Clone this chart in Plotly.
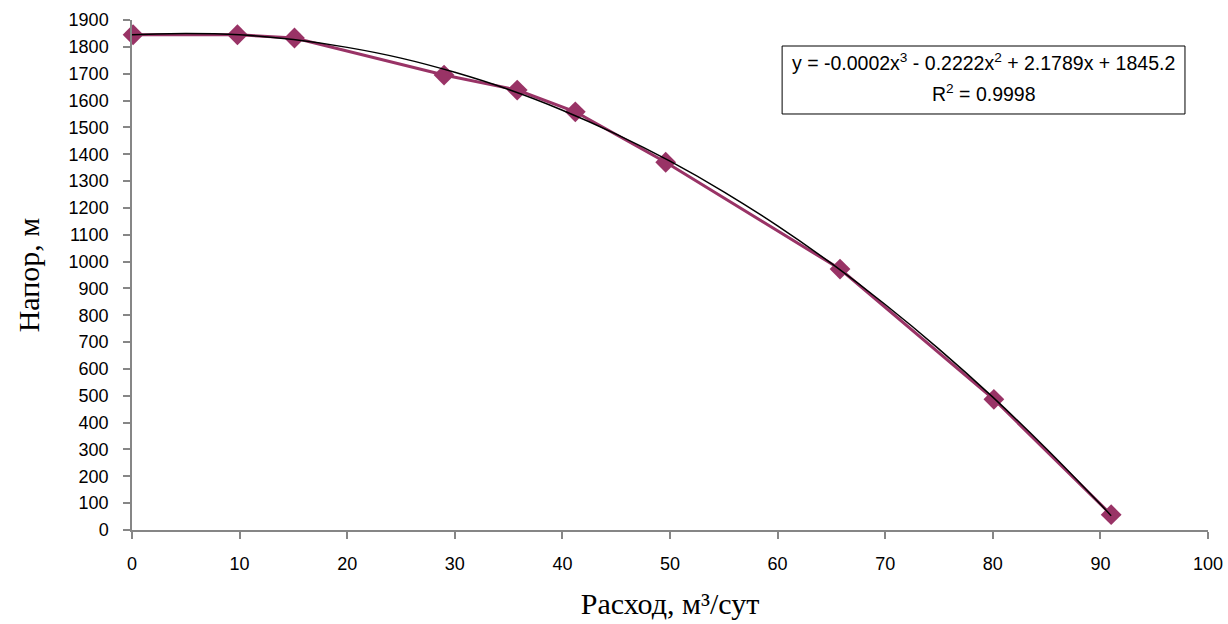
import plotly.graph_objects as go

# measured points
flow = [0.1, 9.8, 15.1, 29.0, 35.8, 41.2, 49.6, 65.8, 80.1, 91.0]
head = [1845, 1845, 1833, 1695, 1639, 1558, 1370, 972, 487, 57]

# trendline
trend_x = [0, 5, 10, 15, 20, 25, 30, 35, 40, 45, 50, 55, 60, 65, 70, 75, 80, 85, 90, 91]
trend_y = [1845, 1850, 1845, 1827, 1798, 1758, 1705, 1641, 1564, 1475, 1374, 1260, 1133, 993, 840, 674, 495, 302, 96, 53]

x_ticks = list(range(0, 101, 10))
y_ticks = list(range(0, 1901, 100))

eq_line1 = "y = -0.0002x<sup>3</sup> - 0.2222x<sup>2</sup> + 2.1789x + 1845.2"
eq_line2 = "R<sup>2</sup> = 0.9998"

TICK_FONT = dict(family="Liberation Sans, Arial, sans-serif", size=18, color="black")
EQ_FONT = dict(family="Liberation Sans, Arial, sans-serif", size=19.5, color="black")
TITLE_FONT = dict(family="Liberation Serif, Times New Roman, serif", size=30, color="black")

fig = go.Figure()
fig.add_trace(go.Scatter(
    x=flow, y=head, mode="lines+markers",
    line=dict(color="#993366", width=3),
    marker=dict(symbol="diamond", size=16, color="#993366"),
    showlegend=False, cliponaxis=False,
))
fig.add_trace(go.Scatter(
    x=trend_x, y=trend_y, mode="lines",
    line=dict(color="black", width=1.5, shape="spline"),
    showlegend=False,
))

fig.add_shape(type="rect", xref="paper", yref="paper",
              x0=0.6042, x1=0.9786, y0=0.8157, y1=0.949,
              line=dict(color="black", width=1), fillcolor="white", layer="below")
fig.add_annotation(xref="paper", yref="paper", x=0.7914, y=0.9176,
                   text=eq_line1, showarrow=False, xanchor="center", yanchor="middle",
                   font=EQ_FONT)
fig.add_annotation(xref="paper", yref="paper", x=0.7914, y=0.8569,
                   text=eq_line2, showarrow=False, xanchor="center", yanchor="middle",
                   font=EQ_FONT)

axis_common = dict(showline=True, linecolor="#868686", linewidth=1.5,
                   ticks="outside", tickcolor="#868686", ticklen=7, tickwidth=1.5,
                   showgrid=False, zeroline=False, tickfont=TICK_FONT, automargin=False)

fig.update_layout(
    width=1228, height=624,
    margin=dict(l=132, r=20, t=20, b=94),
    paper_bgcolor="white", plot_bgcolor="white",
    xaxis=dict(range=[0, 100], tickvals=x_ticks, ticklabelstandoff=10,
               title=dict(text="Расход, м³/сут", font=TITLE_FONT, standoff=20),
               **axis_common),
    yaxis=dict(range=[0, 1900], tickvals=y_ticks, ticklabelstandoff=11,
               title=dict(text="Напор, м", font=TITLE_FONT, standoff=20),
               **axis_common),
)

fig.write_html("out.html")
